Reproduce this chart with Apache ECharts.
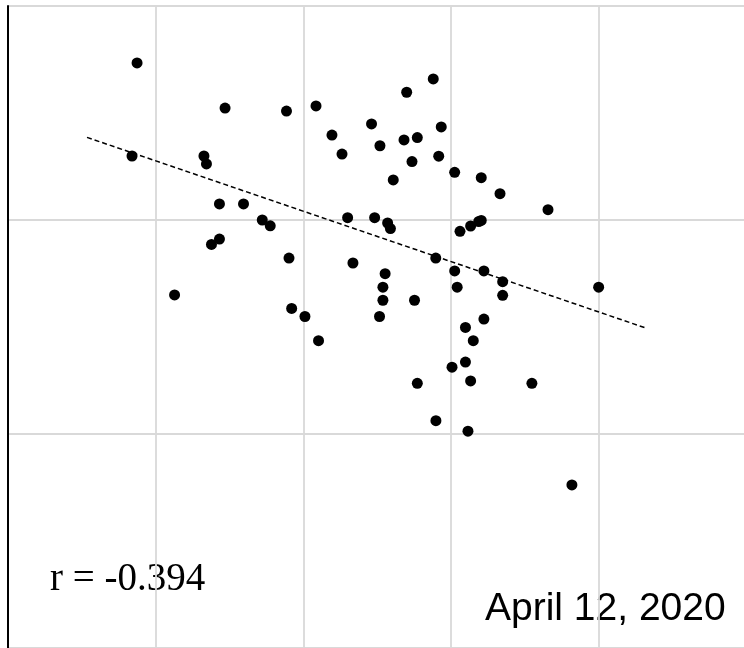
<!DOCTYPE html>
<html>
<head>
<meta charset="utf-8">
<script src="https://cdn.jsdelivr.net/npm/echarts@6/dist/echarts.min.js"></script>
<style>
html,body{margin:0;padding:0;background:#fff;}
#chart{width:744px;height:648px;}
</style>
</head>
<body>
<div id="chart"></div>
<script>
// Scatter values (x, y)
const xValues = [0.874,1.470,1.886,2.086,2.462,2.194,2.262,0.840,1.327,1.344,1.432,1.595,1.722,1.776,2.300,1.432,1.378,1.903,2.336,1.128,1.921,2.011,2.103,2.519,2.700,2.880,2.682,2.772,2.934,2.736,2.917,2.609,3.025,3.205,3.332,3.657,2.483,2.571,2.590,2.554,2.539,2.539,2.753,2.516,2.897,3.061,3.133,3.188,3.205,3.025,3.042,3.223,3.350,3.350,4.000,3.223,3.098,3.151,3.098,3.007,3.133,2.772,3.548,2.898,3.115,3.819];
const yValues = [2.734,2.523,2.509,2.533,2.449,2.397,2.308,2.299,2.299,2.262,2.075,2.075,2.000,1.973,2.011,1.911,1.886,1.822,1.799,1.650,1.587,1.549,1.436,2.347,2.597,2.659,2.374,2.385,2.435,2.273,2.298,2.187,2.223,2.198,2.123,2.048,2.011,1.986,1.960,1.749,1.686,1.625,1.625,1.549,1.822,1.947,1.972,1.993,1.998,1.762,1.686,1.762,1.712,1.648,1.686,1.537,1.498,1.436,1.336,1.312,1.248,1.237,1.237,1.062,1.013,0.762];
// Trend line endpoints
const trendX = [0.535, 4.320];
const trendY = [2.386, 1.495];
const rLabel = 'r = -0.394';
const dateLabel = 'April 12, 2020';

const points = xValues.map((x, i) => [x, yValues[i]]);
const trend = trendX.map((x, i) => [x, trendY[i]]);

const chart = echarts.init(document.getElementById('chart'), null, {renderer: 'canvas'});
chart.setOption({
  animation: false,
  backgroundColor: '#ffffff',
  grid: {left: 8, top: 6, right: -2.3, bottom: 0, containLabel: false, outerBoundsMode: 'none'},
  xAxis: {
    type: 'value', min: 0, max: 5, interval: 1,
    axisLine: {show: false}, axisTick: {show: false}, axisLabel: {show: false},
    splitLine: {show: true, lineStyle: {color: '#d9d9d9', width: 1.8}}
  },
  yAxis: {
    type: 'value', min: 0, max: 3, interval: 1,
    axisLine: {show: true, onZero: false, lineStyle: {color: '#000', width: 2}},
    axisTick: {show: false}, axisLabel: {show: false},
    splitLine: {show: true, lineStyle: {color: '#d9d9d9', width: 1.8}}
  },
  series: [
    {
      type: 'line', data: trend, symbol: 'none', silent: true,
      lineStyle: {color: '#000', width: 1.5, type: [5, 3]}, z: 3
    },
    {
      type: 'scatter', data: points, symbol: 'circle', symbolSize: 11,
      itemStyle: {color: '#000', opacity: 1}, z: 4
    }
  ],
  graphic: [
    {type: 'text', left: 50, top: 560, style: {text: rLabel, font: '39px "Liberation Serif", "Times New Roman", serif', fill: '#000'}},
    {type: 'text', left: 485, top: 590, style: {text: dateLabel, font: '39px "Liberation Sans", Arial, sans-serif', fill: '#000'}}
  ]
});
</script>
</body>
</html>
